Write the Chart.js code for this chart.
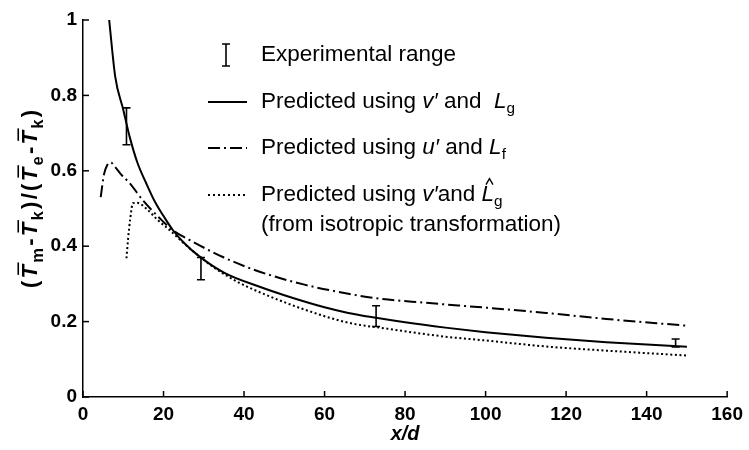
<!DOCTYPE html>
<html><head><meta charset="utf-8">
<script src="https://cdn.jsdelivr.net/npm/chart.js@4/dist/chart.umd.min.js"></script>
<style>html,body{margin:0;padding:0;background:#fff}</style>
</head><body>
<canvas id="c" width="749" height="450"></canvas>
<script>
// ---- data ----
const xTicks = [0, 20, 40, 60, 80, 100, 120, 140, 160];
const yTicks = [0, 0.2, 0.4, 0.6, 0.8, 1];

const solidX = [6.5, 8, 10, 11.6, 13.5, 15.7, 18, 20, 22.3, 25, 28.9, 35, 43.7, 50, 60, 65.9, 72.8, 80, 90, 100, 115, 130, 140, 150];
const solidY = [1.0, 0.85, 0.762, 0.69, 0.622, 0.567, 0.515, 0.48, 0.443, 0.41, 0.373, 0.33, 0.293, 0.27, 0.238, 0.223, 0.21, 0.198, 0.184, 0.172, 0.157, 0.145, 0.139, 0.133];

const dashDotX = [4.4, 5.2, 6, 6.9, 8, 9.5, 11.6, 15, 19, 22, 26.4, 35, 43.7, 55, 65.9, 72.8, 85, 100, 115, 130, 150];
const dashDotY = [0.53, 0.59, 0.615, 0.622, 0.61, 0.59, 0.567, 0.52, 0.475, 0.445, 0.417, 0.37, 0.333, 0.298, 0.274, 0.262, 0.25, 0.237, 0.223, 0.207, 0.189];

const dottedX = [10.8, 11.2, 11.7, 12.4, 13.5, 15.7, 18.5, 21.5, 25, 28.9, 33, 38.8, 45, 55, 65.9, 75, 90, 100, 115, 130, 150];
const dottedY = [0.368, 0.42, 0.47, 0.514, 0.515, 0.50, 0.47, 0.443, 0.408, 0.373, 0.34, 0.303, 0.273, 0.232, 0.197, 0.182, 0.16, 0.15, 0.134, 0.123, 0.11];

const errX = [10.8, 29.3, 72.8, 147.2];
const errLow = [0.669, 0.311, 0.187, 0.133];
const errHigh = [0.767, 0.37, 0.242, 0.154];

const FONT = "'Liberation Sans', Arial, sans-serif";
const NARROW = "'Liberation Sans Narrow', 'Liberation Sans', Arial, sans-serif";

function pts(xs, ys) { return xs.map((x, i) => ({x: x, y: ys[i]})); }

function runFont(r, size, weight, subScale) {
  const s = r.sub ? size * subScale : size;
  return (r.it ? 'italic ' : '') + (weight || 'normal') + ' ' + s + 'px ' + FONT;
}

// rich text: runs of {t, it, sub, hat, bar}
function drawRuns(ctx, x, y, runs, size, weight, gap, subScale) {
  gap = gap || 0; subScale = subScale || 0.68;
  ctx.save();
  ctx.textBaseline = 'middle';
  ctx.textAlign = 'left';
  ctx.fillStyle = '#000';
  ctx.strokeStyle = '#000';
  let cx = x;
  for (const r of runs) {
    ctx.font = runFont(r, size, weight, subScale);
    const yy = r.sub ? y + size * 0.32 : y;
    ctx.fillText(r.t, cx, yy);
    const w = ctx.measureText(r.t).width;
    if (r.bar) {
      ctx.lineWidth = 1.6;
      ctx.beginPath();
      ctx.moveTo(cx + 1 + size * 0.12, y - size * 0.58);
      ctx.lineTo(cx + w + size * 0.12, y - size * 0.58);
      ctx.stroke();
    }
    if (r.hat) {
      ctx.lineWidth = 1.4;
      const hx = cx + w * 0.45 + size * 0.1, hy = y - size * 0.62;
      ctx.beginPath();
      ctx.moveTo(hx - 3.5, hy + 3.5);
      ctx.lineTo(hx, hy - 2.5);
      ctx.lineTo(hx + 3.5, hy + 3.5);
      ctx.stroke();
    }
    cx += w + gap;
  }
  ctx.restore();
  return cx - x;
}

function measureRuns(ctx, runs, size, weight, gap, subScale) {
  gap = gap || 0; subScale = subScale || 0.68;
  ctx.save();
  let w = 0;
  for (const r of runs) {
    ctx.font = runFont(r, size, weight, subScale);
    w += ctx.measureText(r.t).width + gap;
  }
  ctx.restore();
  return w - gap;
}

const decor = {
  id: 'decor',
  afterDraw(chart) {
    const ctx = chart.ctx;
    const xs = chart.scales.x, ys = chart.scales.y;
    const area = chart.chartArea;
    ctx.save();
    ctx.strokeStyle = '#000';
    ctx.lineWidth = 1.5;
    // inward ticks
    xTicks.forEach(v => {
      const px = xs.getPixelForValue(v);
      ctx.beginPath(); ctx.moveTo(px, area.bottom); ctx.lineTo(px, area.bottom - 6); ctx.stroke();
    });
    yTicks.forEach(v => {
      const py = ys.getPixelForValue(v);
      ctx.beginPath(); ctx.moveTo(area.left, py); ctx.lineTo(area.left + 6, py); ctx.stroke();
    });
    // error bars
    ctx.lineWidth = 1.6;
    errX.forEach((v, i) => {
      const px = xs.getPixelForValue(v);
      const p1 = ys.getPixelForValue(errHigh[i]), p2 = ys.getPixelForValue(errLow[i]);
      ctx.beginPath();
      ctx.moveTo(px, p1); ctx.lineTo(px, p2);
      ctx.moveTo(px - 4, p1); ctx.lineTo(px + 4, p1);
      ctx.moveTo(px - 4, p2); ctx.lineTo(px + 4, p2);
      ctx.stroke();
    });
    // legend
    const lx0 = 208, lx1 = 247, tx = 261, fs = 22.5;
    const rows = [55, 102, 148, 195, 225];
    ctx.beginPath();
    ctx.moveTo(226, rows[0] - 11); ctx.lineTo(226, rows[0] + 11);
    ctx.moveTo(222, rows[0] - 11); ctx.lineTo(230, rows[0] - 11);
    ctx.moveTo(222, rows[0] + 11); ctx.lineTo(230, rows[0] + 11);
    ctx.stroke();
    ctx.lineWidth = 2;
    ctx.setLineDash([]);
    ctx.beginPath(); ctx.moveTo(lx0, rows[1]); ctx.lineTo(lx1, rows[1]); ctx.stroke();
    ctx.setLineDash([12, 4, 2, 4]);
    ctx.beginPath(); ctx.moveTo(lx0, rows[2]); ctx.lineTo(lx1, rows[2]); ctx.stroke();
    ctx.setLineDash([2, 3]);
    ctx.beginPath(); ctx.moveTo(lx0, rows[3]); ctx.lineTo(lx1, rows[3]); ctx.stroke();
    ctx.setLineDash([]);
    drawRuns(ctx, tx, rows[0], [{t: 'Experimental range'}], fs);
    drawRuns(ctx, tx, rows[1], [{t: 'Predicted using '}, {t: 'v′', it: true}, {t: ' and  '}, {t: 'L', it: true}, {t: 'g', sub: true}], fs);
    drawRuns(ctx, tx, rows[2], [{t: 'Predicted using '}, {t: 'u′', it: true}, {t: ' and '}, {t: 'L', it: true}, {t: 'f', sub: true}], fs);
    drawRuns(ctx, tx, rows[3], [{t: 'Predicted using '}, {t: 'v′', it: true}, {t: 'and '}, {t: 'L', it: true, hat: true}, {t: 'g', sub: true}], fs);
    drawRuns(ctx, tx, rows[4], [{t: '(from isotropic transformation)'}], fs);
    // y-axis title (rotated)
    const yRuns = [
      {t: '('}, {t: 'T', it: true, bar: true}, {t: 'm', sub: true}, {t: '-'},
      {t: 'T', it: true, bar: true}, {t: 'k', sub: true}, {t: ')'}, {t: '/'}, {t: '('},
      {t: 'T', it: true, bar: true}, {t: 'e', sub: true}, {t: '-'},
      {t: 'T', it: true, bar: true}, {t: 'k', sub: true}, {t: ')'}
    ];
    const tfs = 22, tgap = 2.3, tsub = 0.75;
    const w = measureRuns(ctx, yRuns, tfs, 'bold', tgap, tsub);
    ctx.translate(31, 199);
    ctx.rotate(-Math.PI / 2);
    drawRuns(ctx, -w / 2, 0, yRuns, tfs, 'bold', tgap, tsub);
    ctx.restore();
  }
};

new Chart(document.getElementById('c'), {
  type: 'scatter',
  data: {
    datasets: [
      {label: 'Predicted using v′ and Lg', data: pts(solidX, solidY), showLine: true, borderColor: '#000', borderWidth: 2, pointRadius: 0, cubicInterpolationMode: 'monotone'},
      {label: 'Predicted using u′ and Lf', data: pts(dashDotX, dashDotY), showLine: true, borderColor: '#000', borderWidth: 2, borderDash: [12, 4, 2, 4], pointRadius: 0, cubicInterpolationMode: 'monotone'},
      {label: 'Predicted using v′ and L̂g', data: pts(dottedX, dottedY), showLine: true, borderColor: '#000', borderWidth: 2, borderDash: [2, 2.6], pointRadius: 0, cubicInterpolationMode: 'monotone'}
    ]
  },
  options: {
    responsive: false,
    animation: false,
    devicePixelRatio: 1,
    layout: {padding: {top: 20, right: 18, left: 0, bottom: 0}},
    plugins: {legend: {display: false}, tooltip: {enabled: false}},
    scales: {
      x: {
        type: 'linear', min: 0, max: 160,
        afterFit: s => { s.height = 53; },
        afterBuildTicks: s => { s.ticks = xTicks.map(v => ({value: v})); },
        grid: {display: false, drawTicks: false},
        border: {display: true, color: '#000', width: 1.5},
        ticks: {color: '#000', padding: 6, maxRotation: 0, autoSkip: false, font: {family: NARROW, size: 19, weight: 'bold'}},
        title: {display: true, text: 'x/d', color: '#000', font: {family: NARROW, size: 20, weight: 'bold', style: 'italic'}, padding: {top: 2, bottom: 4}}
      },
      y: {
        type: 'linear', min: 0, max: 1,
        afterFit: s => { s.width = 83; },
        afterBuildTicks: s => { s.ticks = yTicks.map(v => ({value: v})); },
        grid: {display: false, drawTicks: false},
        border: {display: true, color: '#000', width: 1.5},
        ticks: {color: '#000', padding: 6, autoSkip: false, font: {family: NARROW, size: 19, weight: 'bold'},
          callback: v => (v === 0 ? '0' : v === 1 ? '1' : v.toFixed(1))}
      }
    }
  },
  plugins: [decor]
});
</script>
</body></html>
